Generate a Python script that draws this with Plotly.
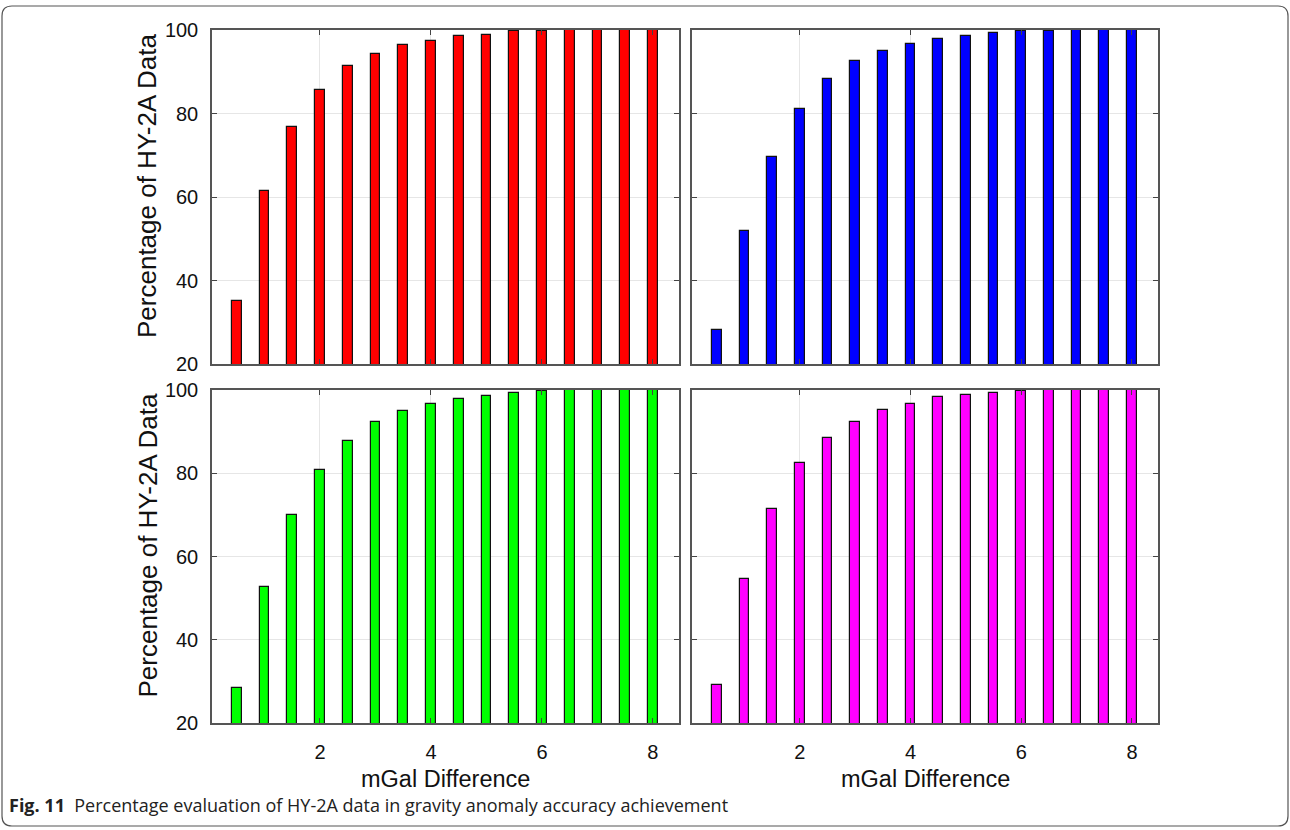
import plotly.graph_objects as go

W, H = 1290, 830

mgal = [0.5, 1.0, 1.5, 2.0, 2.5, 3.0, 3.5, 4.0, 4.5, 5.0, 5.5, 6.0, 6.5, 7.0, 7.5, 8.0]
red_vals = [35.1, 61.4, 76.8, 85.7, 91.4, 94.2, 96.4, 97.4, 98.6, 98.9, 99.7, 99.8, 100, 100, 100, 100]
blue_vals = [28.1, 51.9, 69.7, 81.1, 88.2, 92.5, 95.0, 96.7, 97.8, 98.6, 99.2, 99.7, 99.7, 100, 100, 100]
green_vals = [28.3, 52.6, 69.9, 80.9, 87.7, 92.4, 94.9, 96.7, 97.8, 98.6, 99.2, 99.7, 100, 100, 100, 100]
magenta_vals = [29.1, 54.5, 71.3, 82.4, 88.4, 92.4, 95.3, 96.7, 98.2, 98.8, 99.2, 99.7, 100, 100, 100, 100]
x_ticks = [2, 4, 6, 8]
y_ticks = [20, 40, 60, 80, 100]
y_title = "Percentage of HY-2A Data"
x_title = "mGal Difference"
caption_bold = "Fig. 11"
caption_text = "Percentage evaluation of HY-2A data in gravity anomaly accuracy achievement"

def px(x):
    return x / W

def py(y):
    return 1 - y / H

# panel pixel boxes (left, right, top, bottom)
panels = [
    (212, 679, 30, 364, red_vals, "#ff0000", True, False),
    (692, 1158, 30, 364, blue_vals, "#0000ff", False, False),
    (212, 679, 390, 723, green_vals, "#00ff00", True, True),
    (692, 1158, 390, 723, magenta_vals, "#ff00ff", False, True),
]

fig = go.Figure()
font_family = "Liberation Sans, Arial, sans-serif"
layout = {}
for i, (l, r, t, b, vals, col, showy, showx) in enumerate(panels):
    n = "" if i == 0 else str(i + 1)
    fig.add_trace(go.Bar(
        x=mgal, y=vals, width=0.175,
        marker=dict(color=col, line=dict(color="#111111", width=1.2)),
        xaxis="x" + n, yaxis="y" + n, showlegend=False,
    ))
    layout["xaxis" + n] = dict(
        domain=[px(l), px(r)], range=[0.054, 8.47], anchor="y" + n,
        tickvals=x_ticks, showticklabels=showx, ticks="inside", ticklen=5,
        tickcolor="#444444", showgrid=True, gridcolor="#e6e6e6", gridwidth=1,
        showline=True, linecolor="#555555", linewidth=1.5, mirror="ticks",
        zeroline=False, tickfont=dict(size=20, color="#111111", family=font_family),
        ticklabelstandoff=10, automargin=False,
    )
    layout["yaxis" + n] = dict(
        domain=[py(b), py(t)], range=[20, 100], anchor="x" + n,
        tickvals=y_ticks, showticklabels=showy, ticks="inside", ticklen=5,
        tickcolor="#444444", showgrid=True, gridcolor="#e6e6e6", gridwidth=1,
        showline=True, linecolor="#555555", linewidth=1.5, mirror="ticks",
        zeroline=False, tickfont=dict(size=20, color="#111111", family=font_family),
        ticklabelstandoff=8, automargin=False,
    )

annotations = []
for (t, b) in [(30, 364), (390, 723)]:
    annotations.append(dict(
        x=px(147), y=py((t + b) / 2 - 11), xref="paper", yref="paper",
        text=y_title, textangle=-90, showarrow=False,
        font=dict(size=26, color="#111111", family=font_family),
        xanchor="center", yanchor="middle",
    ))
for (l, r) in [(212, 679), (692, 1158)]:
    annotations.append(dict(
        x=px((l + r) / 2), y=py(779), xref="paper", yref="paper",
        text=x_title, showarrow=False,
        font=dict(size=23.5, color="#111111", family=font_family),
        xanchor="center", yanchor="middle",
    ))
annotations.append(dict(
    x=px(7), y=py(805), xref="paper", yref="paper",
    text="<b>" + caption_bold + "</b>  " + caption_text, showarrow=False,
    font=dict(size=18, color="#222222", family="Open Sans, Noto Sans, sans-serif"),
    xanchor="left", yanchor="middle",
))

# rounded outer frame
L, R, T, B, rad = 2, 1288, 6, 826, 10
path = (
    f"M {px(L+rad)},{py(T)} L {px(R-rad)},{py(T)} Q {px(R)},{py(T)} {px(R)},{py(T+rad)} "
    f"L {px(R)},{py(B-rad)} Q {px(R)},{py(B)} {px(R-rad)},{py(B)} "
    f"L {px(L+rad)},{py(B)} Q {px(L)},{py(B)} {px(L)},{py(B-rad)} "
    f"L {px(L)},{py(T+rad)} Q {px(L)},{py(T)} {px(L+rad)},{py(T)} Z"
)
shapes = [dict(type="path", path=path, xref="paper", yref="paper",
               line=dict(color="#555555", width=1.2), layer="below")]

fig.update_layout(
    width=W, height=H, margin=dict(l=0, r=0, t=0, b=0, pad=0, autoexpand=False),
    paper_bgcolor="white", plot_bgcolor="white",
    annotations=annotations, shapes=shapes, bargap=0,
    **layout,
)

fig.write_html("out.html")
